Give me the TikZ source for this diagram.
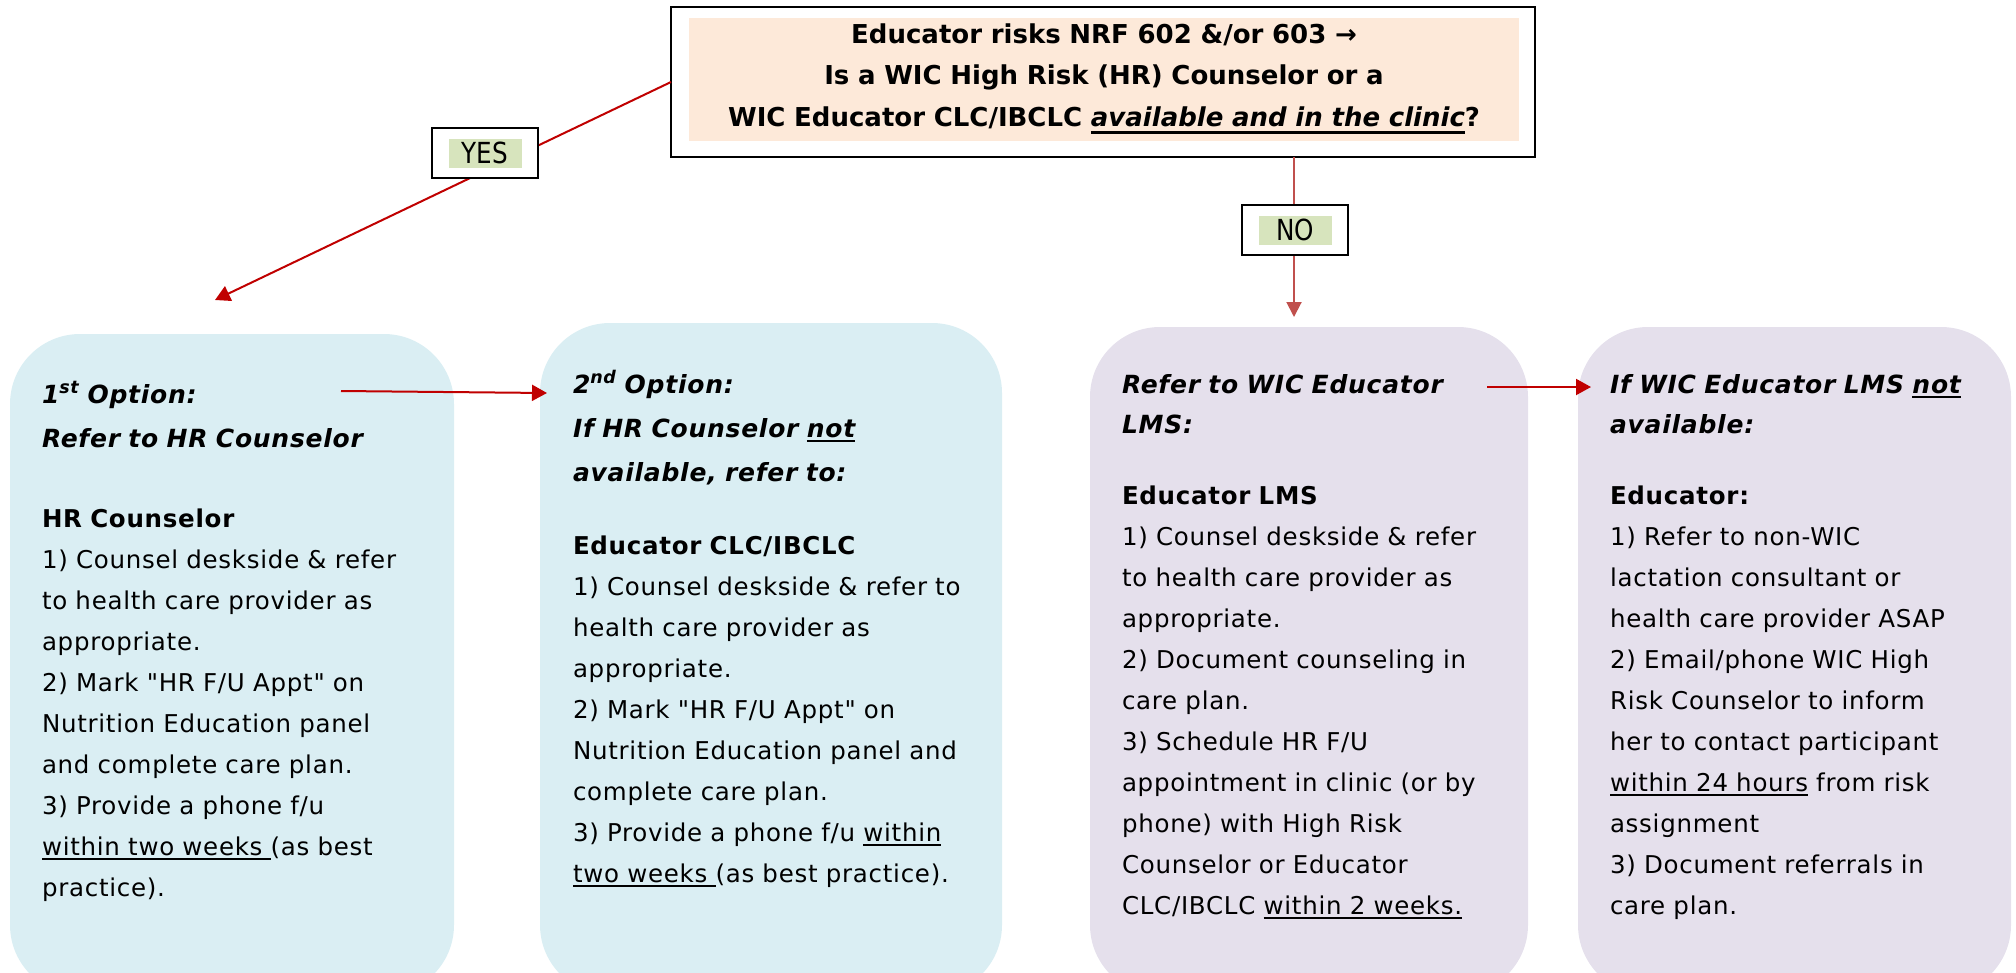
\documentclass[tikz,border=0pt]{standalone}
\usepackage{fontspec}
\setmainfont{DejaVu Sans}[LetterSpace=3, Ligatures=TeXOff]
\newfontfamily\titlefont{DejaVu Sans}
\newfontfamily\tagfont{DejaVu Sans}[FakeStretch=0.85]
\usetikzlibrary{arrows.meta}

% underlined text: rule drawn under a box, with optional thickness and offset
\newsavebox{\ulinebox}
\newcommand{\ulined}[3][1.7pt]{\leavevmode\sbox{\ulinebox}{#3}%
  \rlap{\rule[-#2]{\wd\ulinebox}{#1}}\usebox{\ulinebox}}
\newcommand{\uln}[1]{\ulined{4.6pt}{#1}}

\definecolor{panelblue}{HTML}{DAEEF3}
\definecolor{panelviolet}{HTML}{E5E0EC}
\definecolor{peach}{HTML}{FDE9D9}
\definecolor{taggreen}{HTML}{D7E4BD}
\definecolor{arrowred}{HTML}{C00000}
\definecolor{softred}{HTML}{C0504D}

\begin{document}
\begin{tikzpicture}[x=1pt,y=-1pt,
  every node/.style={inner sep=0pt, outer sep=0pt},
  panel/.style={rounded corners=70pt, anchor=north west, draw=none},
  heading/.style={anchor=base west, text width=450pt, align=left,
    font=\fontsize{25}{44}\selectfont\bfseries\itshape},
  tightheading/.style={heading, font=\fontsize{25}{40}\selectfont\bfseries\itshape},
  bodytext/.style={anchor=base west, text width=450pt, align=left,
    font=\fontsize{24.5}{41}\selectfont},
  flow/.style={draw=arrowred, line width=2pt, -{Triangle[length=15pt,width=16pt]}},
  noflow/.style={draw=softred, line width=2pt, -{Triangle[length=15pt,width=15pt]}},
  tagframe/.style={draw=black, line width=2.2pt, fill=white,
    minimum width=106pt, minimum height=50pt},
  tagfill/.style={fill=taggreen, minimum width=73pt, minimum height=29pt,
    font=\tagfont\fontsize{29}{29}\selectfont}
]
\useasboundingbox (0,0) rectangle (2016,972);

% option panels
\node[panel, fill=panelblue, minimum width=444pt, minimum height=661pt] (b1) at (10,334) {};
\node[panel, fill=panelblue, minimum width=462pt, minimum height=672pt] (b2) at (540,323) {};
\node[panel, fill=panelviolet, minimum width=438pt, minimum height=668pt] (b3) at (1090,327) {};
\node[panel, fill=panelviolet, minimum width=433pt, minimum height=668pt] (b4) at (1578,327) {};

% panel texts
\node[heading] (h1) at (42,403) {1\textsuperscript{st} Option:\\Refer to HR Counselor};
\node[bodytext] (t1) at (42,527) {\textbf{HR Counselor}\\
1) Counsel deskside \& refer\\
to health care provider as\\
appropriate.\\
2) Mark "HR F/U Appt" on\\
Nutrition Education panel\\
and complete care plan.\\
3) Provide a phone f/u\\
\uln{within two weeks }(as best\\
practice).};

\node[heading] (h2) at (573,393) {2\textsuperscript{nd} Option:\\If HR Counselor \uln{not}\\available, refer to:};
\node[bodytext] (t2) at (573,554) {\textbf{Educator CLC/IBCLC}\\
1) Counsel deskside \& refer to\\
health care provider as\\
appropriate.\\
2) Mark "HR F/U Appt" on\\
Nutrition Education panel and\\
complete care plan.\\
3) Provide a phone f/u \uln{within}\\
\uln{two weeks }(as best practice).};

\node[tightheading] (h3) at (1122,393) {Refer to WIC Educator\\LMS:};
\node[bodytext] (t3) at (1122,504) {\textbf{Educator LMS}\\
1) Counsel deskside \& refer\\
to health care provider as\\
appropriate.\\
2) Document counseling in\\
care plan.\\
3) Schedule HR F/U\\
appointment in clinic (or by\\
phone) with High Risk\\
Counselor or Educator\\
CLC/IBCLC \uln{within 2 weeks.}};

\node[tightheading] (h4) at (1610,393) {If WIC Educator LMS \uln{not}\\available:};
\node[bodytext] (t4) at (1610,504) {\textbf{Educator:}\\
1) Refer to non-WIC\\
lactation consultant or\\
health care provider ASAP\\
2) Email/phone WIC High\\
Risk Counselor to inform\\
her to contact participant\\
\uln{within 24 hours} from risk\\
assignment\\
3) Document referrals in\\
care plan.};

% question box
\node[draw=black, line width=2.2pt, fill=white, minimum width=864pt, minimum height=150pt] (top) at (1103,82) {};
\node[fill=peach, minimum width=830pt, minimum height=123pt] (topfill) at (1104,79.5) {};
\node[anchor=base, text width=830pt, align=center,
  font=\titlefont\fontsize{26}{41.5}\selectfont\bfseries] (question) at (1104,43)
  {Educator risks NRF 602 \&/or 603 →\\
   Is a WIC High Risk (HR) Counselor or a\\
   WIC Educator CLC/IBCLC \ulined[2.8pt]{7.5pt}{\textit{available and in the clinic}}?};

% connectors
\coordinate (yestip) at (215,300);
\draw[flow] (top.west) -- (yestip);
\coordinate (nofrom) at ([xshift=191pt]top.south);
\coordinate (notip) at (1294,317);
\draw[noflow] (nofrom) -- (notip);

\coordinate (a1) at (341,391);
\coordinate (a2) at (547,393);
\draw[flow] (a1) -- (a2);
\coordinate (a3) at (1487,387);
\coordinate (a4) at (1591,387);
\draw[flow] (a3) -- (a4);

% answer labels
\node[tagframe] (yes) at (485,153) {};
\node[tagfill] (yeslbl) at (yes.center) {YES};
\node[tagframe] (no) at (1295,230) {};
\node[tagfill] (nolbl) at (no.center) {NO};
\end{tikzpicture}
\end{document}
